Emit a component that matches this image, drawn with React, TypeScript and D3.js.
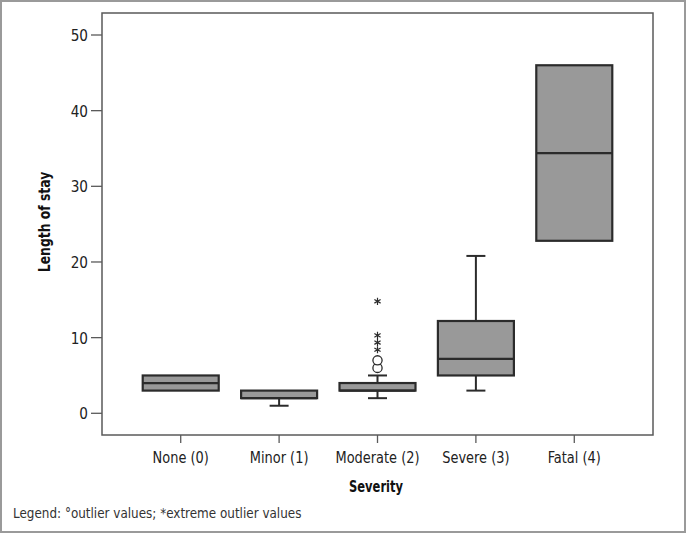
import React from "react";
import * as d3 from "d3";

const categories = ["None (0)", "Minor (1)", "Moderate (2)", "Severe (3)", "Fatal (4)"];
const q1 = [3, 2, 3, 5, 22.8];
const medians = [4, 2, 3, 7.2, 34.4];
const q3 = [5, 3, 4, 12.2, 46];
const whiskerLow = [3, 1, 2, 3, 22.8];
const whiskerHigh = [5, 3, 5, 20.8, 46];
const outlierCat = ["Moderate (2)", "Moderate (2)"];
const outlierVals = [6, 7];
const extremeCat = ["Moderate (2)", "Moderate (2)", "Moderate (2)", "Moderate (2)"];
const extremeVals = [8.4, 9.35, 10.3, 14.8];
const yTicks = [0, 10, 20, 30, 40, 50];

const W = 686;
const H = 533;
const FONT = "'DejaVu Sans Condensed', 'DejaVu Sans', sans-serif";

function T(props: { x: number; y: number; sx: number; rot?: number; anchor?: string; size: number; bold?: boolean; fill?: string; dy?: string; children: React.ReactNode }) {
  const { x, y, sx, rot, anchor, size, bold, fill, dy, children } = props;
  return (
    <text
      transform={`translate(${x},${y}) rotate(${rot || 0}) scale(${sx},1)`}
      textAnchor={anchor || "start"}
      fontSize={size}
      fontWeight={bold ? "bold" : "normal"}
      fill={fill || "#222"}
      dy={dy}
    >
      {children}
    </text>
  );
}

export default function App() {
  const left = 102, right = 653, top = 13, bottom = 435;
  const x = d3.scalePoint<string>().domain(categories).range([left, right]).padding(0.8);
  const y = d3.scaleLinear().domain([0, 50]).range([413.3, 35]);
  const bw = 76;
  const cap = 19;
  const stroke = "#2b2b2b";
  const star = (cx: number, cy: number, k: number) => {
    const r = 3.6;
    const segs = [0, 60, 120].map((a) => {
      const rad = (a * Math.PI) / 180;
      const dx = r * Math.sin(rad), dy = r * Math.cos(rad);
      return `M${cx - dx},${cy - dy}L${cx + dx},${cy + dy}`;
    });
    return <path key={k} d={segs.join("")} stroke={stroke} strokeWidth={1.2} fill="none" />;
  };
  return (
    <svg width={W} height={H} style={{ position: "absolute", left: 0, top: 0, background: "#fff" }} fontFamily={FONT}>
      <rect x={1} y={1} width={W - 2} height={H - 2} fill="#fff" stroke="#9a9a9a" strokeWidth={2} />
      <rect x={left} y={top} width={right - left} height={bottom - top} fill="none" stroke="#5a5a5a" strokeWidth={1.5} />
      {yTicks.map((t) => (
        <g key={t}>
          <line x1={left - 11} x2={left} y1={y(t)} y2={y(t)} stroke="#5a5a5a" strokeWidth={1.3} />
          <T x={left - 14} y={y(t)} dy="0.36em" sx={0.92} anchor="end" size={16.5}>{t}</T>
        </g>
      ))}
      {categories.map((c) => (
        <g key={c}>
          <line x1={x(c)!} x2={x(c)!} y1={bottom} y2={bottom + 8} stroke="#5a5a5a" strokeWidth={1.3} />
          <T x={x(c)!} y={463} sx={0.9} anchor="middle" size={16}>{c}</T>
        </g>
      ))}
      <T x={376} y={492} sx={0.8} anchor="middle" size={16} bold fill="#111">Severity</T>
      <T x={50} y={222} rot={-90} sx={0.86} anchor="middle" size={16} bold fill="#111">Length of stay</T>
      {categories.map((c, i) => {
        const cx = x(c)!;
        return (
          <g key={"b" + c}>
            {whiskerHigh[i] > q3[i] && (
              <g>
                <line x1={cx} x2={cx} y1={y(q3[i])} y2={y(whiskerHigh[i])} stroke={stroke} strokeWidth={2} />
                <line x1={cx - cap / 2} x2={cx + cap / 2} y1={y(whiskerHigh[i])} y2={y(whiskerHigh[i])} stroke={stroke} strokeWidth={2} />
              </g>
            )}
            {whiskerLow[i] < q1[i] && (
              <g>
                <line x1={cx} x2={cx} y1={y(q1[i])} y2={y(whiskerLow[i])} stroke={stroke} strokeWidth={2} />
                <line x1={cx - cap / 2} x2={cx + cap / 2} y1={y(whiskerLow[i])} y2={y(whiskerLow[i])} stroke={stroke} strokeWidth={2} />
              </g>
            )}
            <rect x={cx - bw / 2} y={y(q3[i])} width={bw} height={y(q1[i]) - y(q3[i])} fill="#999999" stroke={stroke} strokeWidth={2.2} />
            <line x1={cx - bw / 2} x2={cx + bw / 2} y1={y(medians[i])} y2={y(medians[i])} stroke={stroke} strokeWidth={2.2} />
          </g>
        );
      })}
      {outlierVals.map((v, i) => (
        <circle key={"o" + i} cx={x(outlierCat[i])!} cy={y(v)} r={4.6} fill="#fff" stroke={stroke} strokeWidth={1.3} />
      ))}
      {extremeVals.map((v, i) => star(x(extremeCat[i])!, y(v), i))}
      <T x={13} y={518} sx={0.92} size={14.5} fill="#333">Legend: °outlier values; *extreme outlier values</T>
    </svg>
  );
}
